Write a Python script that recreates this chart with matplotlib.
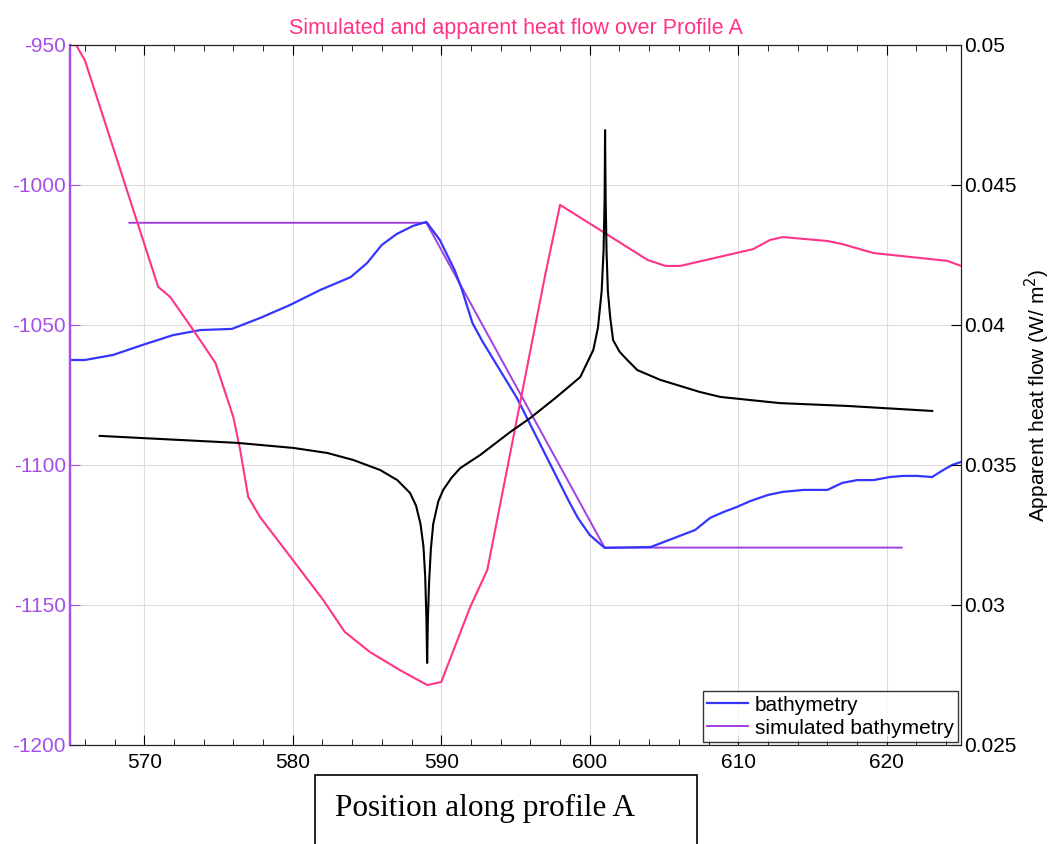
import matplotlib
matplotlib.use('Agg')
from matplotlib import pyplot as plt
from matplotlib.patches import Rectangle
from matplotlib.ticker import MultipleLocator

plt.rcParams['font.family'] = ['Liberation Sans', 'DejaVu Sans']
plt.rcParams['axes.unicode_minus'] = False

# bathymetry (left axis, m)
bathy_x = [565.0, 566.0, 567.9, 569.9, 571.95, 573.8, 575.9, 577.8, 579.8, 581.85, 583.9,
           585.0, 586.0, 587.0, 588.1, 589.0, 589.9, 590.9, 591.4, 592.1, 592.8, 595.1,
           598.55, 599.2, 600.0, 601.0, 604.1, 607.1, 608.1, 609.0, 609.9, 610.8, 612.0,
           613.0, 614.4, 616.0, 617.0, 618.0, 619.1, 620.2, 621.1, 622.05, 623.05, 623.8,
           624.4, 625.0]
bathy_y = [-1062.5, -1062.5, -1060.7, -1057.1, -1053.6, -1051.8, -1051.4, -1047.5, -1042.9,
           -1037.5, -1032.9, -1027.9, -1021.4, -1017.5, -1014.6, -1013.2, -1019.6, -1030.4,
           -1037.5, -1049.3, -1056.1, -1076.1, -1112.5, -1118.9, -1125.0, -1129.6, -1129.3,
           -1123.2, -1118.9, -1116.8, -1115.0, -1112.9, -1110.7, -1109.6, -1108.9, -1108.9,
           -1106.4, -1105.4, -1105.4, -1104.3, -1103.9, -1103.9, -1104.3, -1101.8, -1100.0,
           -1098.9]

# simulated bathymetry (left axis)
sim_x = [569.0, 589.0, 601.0, 621.0]
sim_y = [-1013.5, -1013.5, -1129.5, -1129.5]

# simulated heat flow (right axis, W/m^2)
hf_x = [565.3, 566.0, 570.94, 571.75, 573.3, 574.8, 576.0, 576.46, 577.0, 577.8, 580.0,
        582.05, 583.5, 585.2, 587.2, 589.06, 590.0, 591.95, 593.1, 597.0, 598.0, 600.7,
        603.9, 605.1, 606.1, 611.0, 612.15, 613.0, 616.0, 617.0, 619.1, 624.07, 625.0]
hf_y = [0.0501, 0.04946, 0.04136, 0.0410, 0.03982, 0.03864, 0.03671, 0.03554, 0.03386,
        0.03314, 0.03161, 0.03018, 0.02904, 0.02832, 0.02768, 0.02714, 0.02725, 0.02993,
        0.03125, 0.04179, 0.04429, 0.04339, 0.04232, 0.04211, 0.04211, 0.04271, 0.04304,
        0.04314, 0.04300, 0.04289, 0.04257, 0.04229, 0.04211]

# apparent heat flow (right axis, W/m^2)
app_x = [567.0, 569.93, 576.26, 580.03, 582.32, 584.07, 585.89, 587.04, 587.9, 588.3,
         588.6, 588.8, 588.92, 589.0, 589.05, 589.1, 589.18, 589.3, 589.46, 589.8, 590.13,
         590.7, 591.28, 592.63, 594.65, 596.0, 597.68, 599.36, 600.24, 600.55, 600.8,
         600.93, 601.0, 601.03, 601.07, 601.13, 601.22, 601.37, 601.57, 602.0, 602.4,
         603.2, 604.75, 607.4, 608.8, 612.8, 617.3, 623.06]
app_y = [0.03604, 0.03596, 0.03579, 0.03561, 0.03543, 0.03518, 0.03482, 0.03446, 0.0340,
         0.03355, 0.03290, 0.03210, 0.03100, 0.02950, 0.02793, 0.02950, 0.03080, 0.03200,
         0.03290, 0.03370, 0.03411, 0.03455, 0.03489, 0.03536, 0.03618, 0.03668, 0.03739,
         0.03814, 0.03911, 0.03990, 0.04120, 0.04268, 0.04450, 0.04696, 0.04450, 0.04260,
         0.04120, 0.04030, 0.03946, 0.03905, 0.03882, 0.03839, 0.03804, 0.03761, 0.03743,
         0.03721, 0.03711, 0.03693]

purple = '#a64ee8'
pink = '#ff3388'
fs = 15

fig = plt.figure(figsize=(10.54, 8.44), dpi=100)
ax = fig.add_axes([0.0664, 0.1173, 0.8454, 0.8294])
ax2 = ax.twinx()

ax.plot(bathy_x, bathy_y, color='#3535ff', lw=1.6, label='bathymetry', zorder=3)
ax.plot(sim_x, sim_y, color='#a040e0', lw=1.4, label='simulated bathymetry', zorder=2)
ax2.plot(hf_x, hf_y, color=pink, lw=1.5)
ax2.plot(app_x, app_y, color='black', lw=1.5)

ax.set_xlim(565, 625)
ax.set_ylim(-1200, -950)
ax2.set_ylim(0.025, 0.05)
ax.set_yticks([-1200, -1150, -1100, -1050, -1000, -950])
ax2.set_yticks([0.025, 0.03, 0.035, 0.04, 0.045, 0.05])
ax2.set_yticklabels(['0.025', '0.03', '0.035', '0.04', '0.045', '0.05'])
ax.xaxis.set_major_locator(MultipleLocator(10))
ax.xaxis.set_minor_locator(MultipleLocator(2))

ax.grid(True, which='major', color='#dcdcdc', lw=0.8)
ax.tick_params(axis='x', which='both', direction='in', top=True, labelsize=fs, pad=6)
ax.tick_params(axis='x', which='major', length=7)
ax.tick_params(axis='x', which='minor', length=4)
ax.tick_params(axis='y', direction='in', length=7, labelsize=fs, colors=purple,
               labelcolor=purple, pad=3)
ax2.tick_params(axis='y', direction='in', length=7, labelsize=fs, pad=2)

ax.spines['left'].set_color(purple)
ax.spines['left'].set_linewidth(1.6)
ax2.spines['left'].set_color(purple)
ax2.spines['left'].set_linewidth(1.6)
for s in ['top', 'bottom', 'right']:
    ax2.spines[s].set_color('#222222')

ax2.set_ylabel('Apparent heat flow (W/ m$^2$)', fontsize=15, labelpad=5)
ax.set_title('Simulated and apparent heat flow over Profile A', color=pink, fontsize=15.5, pad=8)

leg = ax.legend(loc='lower right', fontsize=fs, frameon=True, fancybox=False,
                edgecolor='black', handlelength=2.0, handletextpad=0.3,
                borderaxespad=0.15, borderpad=0.2, labelspacing=0.2)
leg.get_frame().set_linewidth(1.0)

# boxed x-axis caption
fig.patches.append(Rectangle((315 / 1054, -0.02), (697 - 315) / 1054, (844 - 775) / 844 + 0.02,
                             transform=fig.transFigure, fill=False, edgecolor='black', lw=1.2))
fig.text(335 / 1054, 1 - 808 / 844, 'Position along profile A', family='Liberation Serif',
         fontsize=22.5, va='center', ha='left')

fig.savefig('out.png', dpi=100)
